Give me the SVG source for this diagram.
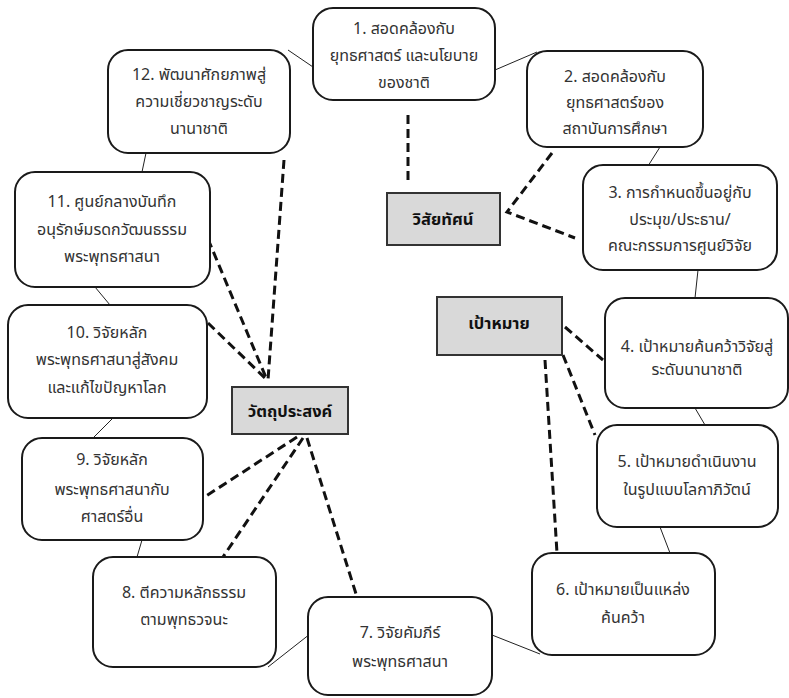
<svg xmlns="http://www.w3.org/2000/svg" width="789" height="698" viewBox="0 0 789 698">
<style>
.box{fill:#fff;stroke:#1a1a1a;stroke-width:2}
.hub{fill:#d9d9d9;stroke:#333;stroke-width:2}
.t{font-family:"Noto Sans Thai","Noto Sans","DejaVu Sans",sans-serif;font-size:16px;fill:#333;text-anchor:middle}
.h{font-family:"Noto Sans Thai","Noto Sans","DejaVu Sans",sans-serif;font-size:16.5px;font-weight:bold;fill:#111;text-anchor:middle}
.thin{stroke:#222;stroke-width:1;fill:none}
.dash{stroke:#111;stroke-width:3;stroke-dasharray:9 5;fill:none}
</style>
<rect width="789" height="698" fill="#fff"/>
<g id="connectors">
<line class="thin" x1="288" y1="50" x2="313" y2="67"/>
<line class="thin" x1="495" y1="70" x2="537" y2="52"/>
<line class="thin" x1="660" y1="147" x2="648" y2="166"/>
<line class="thin" x1="698" y1="270" x2="695" y2="298"/>
<line class="thin" x1="695" y1="408" x2="705" y2="425"/>
<line class="thin" x1="660" y1="527" x2="670" y2="553"/>
<line class="thin" x1="492" y1="635" x2="540" y2="654"/>
<line class="thin" x1="268" y1="667" x2="310" y2="634"/>
<line class="thin" x1="142" y1="540" x2="137" y2="557"/>
<line class="thin" x1="113" y1="418" x2="93" y2="438"/>
<line class="thin" x1="95" y1="287" x2="110" y2="305"/>
<line class="thin" x1="146" y1="153" x2="142" y2="172"/>
<line class="dash" x1="408" y1="115" x2="408" y2="185"/>
<polyline class="dash" points="552,153 507,212 575,238"/>
<line class="dash" x1="565" y1="327" x2="603" y2="360"/>
<line class="dash" x1="563" y1="355" x2="595" y2="435"/>
<line class="dash" x1="545" y1="360" x2="557" y2="553"/>
<line class="dash" x1="284" y1="160" x2="268" y2="380"/>
<line class="dash" x1="208" y1="239" x2="267" y2="380"/>
<line class="dash" x1="208" y1="323" x2="267" y2="380"/>
<line class="dash" x1="297" y1="437" x2="203" y2="498"/>
<line class="dash" x1="303" y1="438" x2="223" y2="557"/>
<line class="dash" x1="307" y1="438" x2="357" y2="597"/>
</g>
<g id="n1"><rect class="box" x="313" y="8" width="182" height="92" rx="20"/>
<text class="t" x="404" y="34">1. สอดคล้องกับ</text><text class="t" x="404" y="61">ยุทธศาสตร์ และนโยบาย</text><text class="t" x="404" y="88">ของชาติ</text></g>
<g id="n2"><rect class="box" x="527" y="51" width="176" height="96" rx="20"/>
<text class="t" x="615" y="82">2. สอดคล้องกับ</text><text class="t" x="615" y="108">ยุทธศาสตร์ของ</text><text class="t" x="615" y="134">สถาบันการศึกษา</text></g>
<g id="n3"><rect class="box" x="583" y="165" width="194" height="105" rx="20"/>
<text class="t" x="680" y="198">3. การกำหนดขึ้นอยู่กับ</text><text class="t" x="680" y="225">ประมุข/ประธาน/</text><text class="t" x="680" y="251">คณะกรรมการศูนย์วิจัย</text></g>
<g id="n4"><rect class="box" x="605" y="298" width="183" height="110" rx="20"/>
<text class="t" x="697" y="352">4. เป้าหมายค้นคว้าวิจัยสู่</text><text class="t" x="697" y="375">ระดับนานาชาติ</text></g>
<g id="n5"><rect class="box" x="597" y="425" width="181" height="102" rx="20"/>
<text class="t" x="687" y="467">5. เป้าหมายดำเนินงาน</text><text class="t" x="687" y="495">ในรูปแบบโลกาภิวัตน์</text></g>
<g id="n6"><rect class="box" x="532" y="553" width="183" height="102" rx="20"/>
<text class="t" x="623" y="595">6. เป้าหมายเป็นแหล่ง</text><text class="t" x="623" y="623">ค้นคว้า</text></g>
<g id="n7"><rect class="box" x="308" y="597" width="184" height="98" rx="20"/>
<text class="t" x="400" y="638">7. วิจัยคัมภีร์</text><text class="t" x="400" y="667">พระพุทธศาสนา</text></g>
<g id="n8"><rect class="box" x="93" y="557" width="183" height="110" rx="20"/>
<text class="t" x="184" y="598">8. ตีความหลักธรรม</text><text class="t" x="184" y="625">ตามพุทธวจนะ</text></g>
<g id="n9"><rect class="box" x="22" y="438" width="181" height="102" rx="20"/>
<text class="t" x="112" y="465">9. วิจัยหลัก</text><text class="t" x="112" y="495">พระพุทธศาสนากับ</text><text class="t" x="112" y="522">ศาสตร์อื่น</text></g>
<g id="n10"><rect class="box" x="8" y="305" width="199" height="113" rx="20"/>
<text class="t" x="107" y="338">10. วิจัยหลัก</text><text class="t" x="107" y="365">พระพุทธศาสนาสู่สังคม</text><text class="t" x="107" y="393">และแก้ไขปัญหาโลก</text></g>
<g id="n11"><rect class="box" x="15" y="172" width="195" height="115" rx="20"/>
<text class="t" x="112" y="207">11. ศูนย์กลางบันทึก</text><text class="t" x="112" y="235">อนุรักษ์มรดกวัฒนธรรม</text><text class="t" x="112" y="262">พระพุทธศาสนา</text></g>
<g id="n12"><rect class="box" x="108" y="50" width="182" height="103" rx="20"/>
<text class="t" x="199" y="80">12. พัฒนาศักยภาพสู่</text><text class="t" x="199" y="107">ความเชี่ยวชาญระดับ</text><text class="t" x="199" y="134">นานาชาติ</text></g>
<g id="vision"><rect class="hub" x="387" y="193" width="113" height="52"/>
<text class="h" x="443" y="225">วิสัยทัศน์</text></g>
<g id="goal"><rect class="hub" x="437" y="297" width="125" height="58"/>
<text class="h" x="499" y="329">เป้าหมาย</text></g>
<g id="objective"><rect class="hub" x="232" y="387" width="116" height="47"/>
<text class="h" x="290" y="417">วัตถุประสงค์</text></g>
</svg>
